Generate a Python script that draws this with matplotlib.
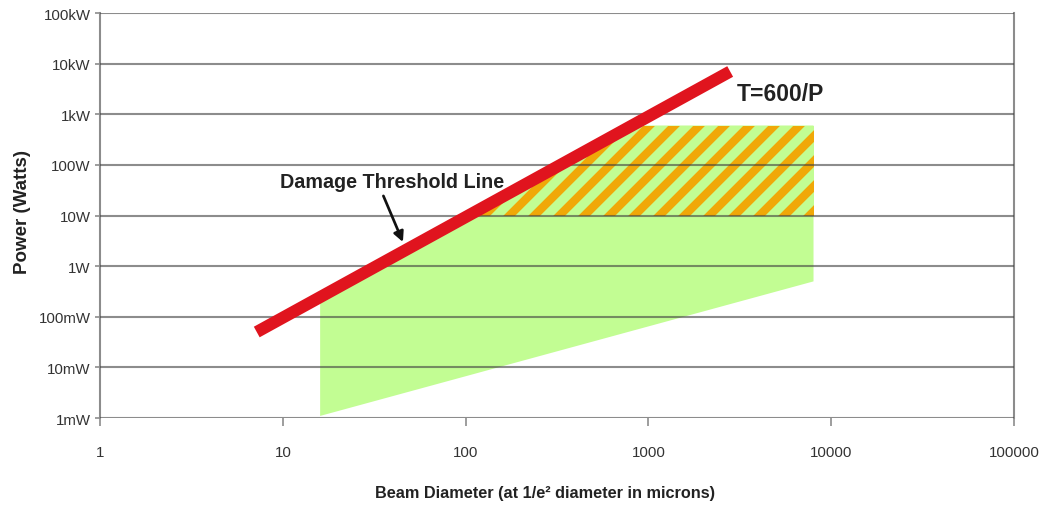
import matplotlib

matplotlib.use("Agg")
import matplotlib.pyplot as plt  # noqa: E402
import numpy as np
from matplotlib.ticker import FixedLocator, NullLocator

# threshold line end points (beam diameter in microns, power in W)
line_d = [7.2, 2800]
line_p = [0.05, 7000]

# safe operating region
region_d = [16, 8000]
region_bottom = [0.0011, 0.5]
hatch_low = 10
hatch_high = 600

x_ticks = [1, 10, 100, 1000, 10000, 100000]
x_labels = ["1", "10", "100", "1000", "10000", "100000"]
y_ticks = [1e-3, 1e-2, 1e-1, 1, 10, 100, 1e3, 1e4, 1e5]
y_labels = ["1mW", "10mW", "100mW", "1W", "10W", "100W", "1kW", "10kW", "100kW"]

GREEN = "#c2fd93"
ORANGE = "#f0a808"
RED = "#e0141e"
GRID = "#8c8c8c"

plt.rcParams["font.family"] = ["Liberation Sans", "DejaVu Sans"]
plt.rcParams["hatch.linewidth"] = 4.0


def p_on_line(d):
    # power on the threshold line at diameter d (straight in log-log)
    return 10 ** np.interp(np.log10(d), np.log10(line_d), np.log10(line_p))


def d_on_line(p):
    return 10 ** np.interp(np.log10(p), np.log10(line_p), np.log10(line_d))


fig = plt.figure(figsize=(6.96, 3.3733), dpi=150)
ax = fig.add_axes([0.0958, 0.1719, 0.9713 - 0.0958, 0.9723 - 0.1719])
ax.set_xscale("log")
ax.set_yscale("log")
ax.set_xlim(1, 100000)
ax.set_ylim(1e-3, 1e5)

# green region below the threshold line
d_top = d_on_line(hatch_high)
green_x = [region_d[0], region_d[1], region_d[1], d_top, region_d[0]]
green_y = [region_bottom[0], region_bottom[1], hatch_high, hatch_high, p_on_line(region_d[0])]
ax.fill(green_x, green_y, facecolor=GREEN, edgecolor="none", zorder=2)

# hatched band
d_low = d_on_line(hatch_low)
hx = [d_low, region_d[1], region_d[1], d_top]
hy = [hatch_low, hatch_low, hatch_high, hatch_high]
ax.fill(hx, hy, facecolor=GREEN, edgecolor=ORANGE, hatch="//", linewidth=0, zorder=2)

# grid lines, drawn over the fills like in the source
for yv in y_ticks:
    ax.axhline(yv, color="#404040", alpha=0.6, lw=1.0, zorder=3)

ax.plot(line_d, line_p, color=RED, lw=5.8, solid_capstyle="butt", zorder=4)

ax.text(39.6, 46, "Damage Threshold Line", ha="center", va="center",
        fontsize=9.5, fontweight="bold", color="#222222", zorder=5)
ax.annotate("", xy=(45.4, 3.0), xytext=(35.5, 24.4),
            arrowprops=dict(arrowstyle="-|>", color="#111111", lw=1.3,
                            mutation_scale=10, shrinkA=0, shrinkB=0),
            zorder=5)
ax.text(3050, 2530, "T=600/P", ha="left", va="center", fontsize=11,
        fontweight="bold", color="#222222")

for side in ["top", "bottom"]:
    ax.spines[side].set_visible(False)
for side in ["left", "right"]:
    ax.spines[side].set_color(GRID)
    ax.spines[side].set_linewidth(1.0)

ax.xaxis.set_major_locator(FixedLocator(x_ticks))
ax.xaxis.set_minor_locator(NullLocator())
ax.set_xticklabels(x_labels)
ax.yaxis.set_major_locator(FixedLocator(y_ticks))
ax.yaxis.set_minor_locator(NullLocator())
ax.set_yticklabels(y_labels)
ax.tick_params(axis="x", length=4, width=0.8, color=GRID, pad=9, labelsize=7.2, labelcolor="#333333")
ax.tick_params(axis="y", length=2.5, width=0.8, color=GRID, pad=2, labelsize=7.2, labelcolor="#333333")

ax.set_xlabel("Beam Diameter (at 1/e² diameter in microns)", fontsize=7.8, fontweight="bold", color="#222222")
ax.xaxis.set_label_coords(0.487, -0.165)
ax.set_ylabel("Power (Watts)", fontsize=9, fontweight="bold", color="#222222")
ax.yaxis.set_label_coords(-0.076, 0.51)

fig.savefig("out.png", dpi=150)
